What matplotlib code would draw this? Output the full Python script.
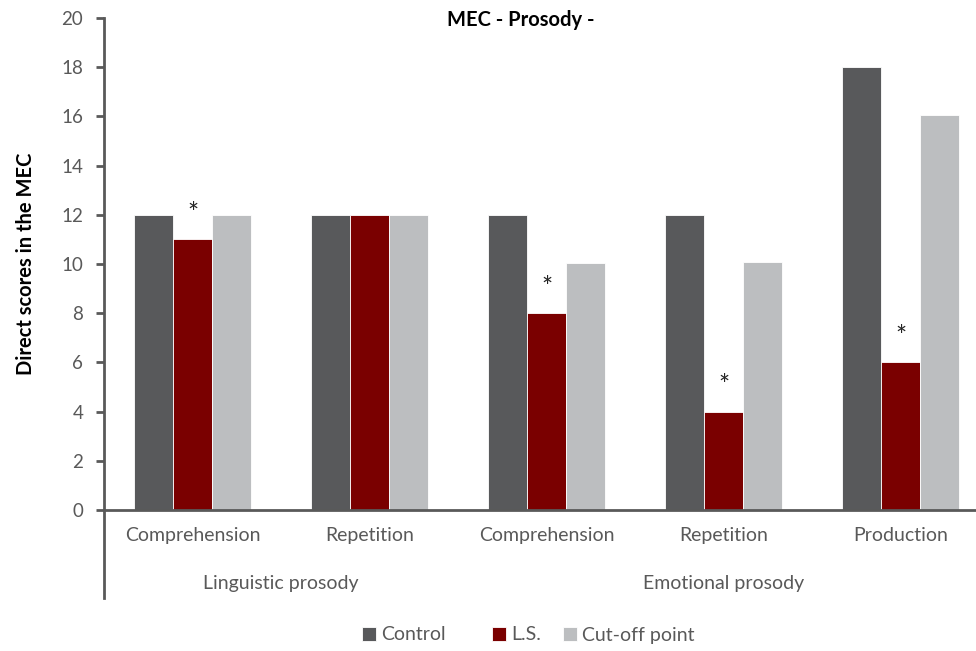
import numpy as np
import matplotlib.pyplot as plt
from matplotlib.lines import Line2D

plt.rcParams['font.family'] = ['Lato', 'DejaVu Sans']

categories = ["Comprehension", "Repetition", "Comprehension", "Repetition", "Production"]
groups = ["Linguistic prosody", "Emotional prosody"]
group_centers = [0.5, 3.0]
control = [12, 12, 12, 12, 18]
ls = [11, 12, 8, 4, 6]
cutoff = [12, 12, 10.05, 10.1, 16.05]
significant = [True, False, True, True, True]

series_names = ["Control", "L.S.", "Cut-off point"]
colors = ["#58595b", "#7a0000", "#bcbec0"]
grey = "#595959"
# left edge (pixels) of each legend entry, Excel spaces them unevenly
legend_x = [362, 492, 563]


def main():
    fig = plt.figure(figsize=(9.76, 6.51), dpi=100)
    ax = fig.add_axes([104 / 976, 141 / 651, 885 / 976, 492 / 651])

    x = np.arange(len(categories))
    w = 0.222
    handles = []
    for i, vals in enumerate([control, ls, cutoff]):
        b = ax.bar(x + (i - 1) * w, vals, width=w, color=colors[i],
                   edgecolor="white", linewidth=0.6, label=series_names[i], zorder=2)
        handles.append(b)

    # asterisks over significant L.S. bars
    for xi, v, s in zip(x, ls, significant):
        if s:
            ax.text(xi, v + 1.0, "*", ha="center", va="center", fontsize=19, color="#222222")

    ax.set_xlim(-0.5, len(categories) - 0.5)
    ax.set_ylim(0, 20)
    ax.set_yticks(np.arange(0, 21, 2))
    ax.set_xticks(x)
    ax.set_xticklabels(categories)
    ax.tick_params(axis="x", length=0, pad=12, labelsize=14, colors=grey)
    ax.tick_params(axis="y", length=6, width=2, direction="out", labelsize=13.5, colors=grey, pad=9)

    for side in ["top", "right"]:
        ax.spines[side].set_visible(False)
    ax.spines["left"].set_color(grey)
    ax.spines["left"].set_linewidth(2)
    ax.spines["bottom"].set_color(grey)
    ax.spines["bottom"].set_linewidth(2)

    # extend the vertical axis line down past the group labels
    ax.add_line(Line2D([0, 0], [0, -0.178], transform=ax.transAxes, color=grey,
                       linewidth=2, clip_on=False))

    for g, c in zip(groups, group_centers):
        ax.text(c, -0.149, g, transform=ax.get_xaxis_transform(), ha="center",
                va="center", fontsize=14, color=grey)

    ax.set_ylabel("Direct scores in the MEC", fontsize=14.5, fontweight="bold", labelpad=18)
    fig.text(521 / 976, 1 - 20 / 651, "MEC - Prosody -", ha="center", va="center",
             fontsize=14.5, fontweight="bold")

    for h, name, lx in zip(handles, series_names, legend_x):
        fig.legend([h], [name], loc="center left", bbox_to_anchor=(lx / 976, 1 - 635 / 651),
                   frameon=False, fontsize=14, handlelength=0.7, handleheight=0.7,
                   handletextpad=0.3, borderpad=0, borderaxespad=0, labelcolor=grey)

    fig.savefig("out.png", dpi=100)


if __name__ == "__main__":
    main()
